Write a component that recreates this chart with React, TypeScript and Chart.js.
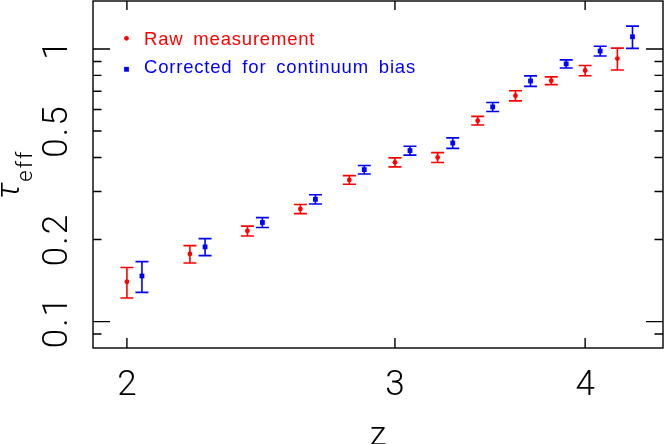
import { useEffect, useRef } from "react";
import { Chart, registerables } from "chart.js";

Chart.register(...registerables);

// Raw measurement (red)
const rawZ = [2.0, 2.2, 2.4, 2.6, 2.8, 3.0, 3.2, 3.4, 3.6, 3.8, 4.0, 4.2];
const rawTau = [0.14, 0.177, 0.215, 0.259, 0.331, 0.384, 0.4, 0.546, 0.674, 0.765, 0.834, 0.922];
const rawErr = [0.018, 0.013, 0.009, 0.01, 0.012, 0.0145, 0.0167, 0.02, 0.029, 0.025, 0.036, 0.085];

// Corrected for continuum bias (blue)
const corrZ = [2.046, 2.251, 2.455, 2.66, 2.864, 3.069, 3.274, 3.478, 3.683, 3.887, 4.092, 4.297];
const corrTau = [0.147, 0.188, 0.231, 0.281, 0.361, 0.424, 0.452, 0.613, 0.763, 0.882, 0.983, 1.109];
const corrErr = [0.019, 0.0135, 0.0097, 0.011, 0.013, 0.016, 0.02, 0.023, 0.034, 0.03, 0.04, 0.104];

// Axes
const xTickValues = [2, 3, 4];
const xTickLabels = ["2", "3", "4"];
const yMajorTicks = [0.1, 1];
const yMinorTicks = [0.09, 0.2, 0.3, 0.4, 0.5, 0.6, 0.7, 0.8, 0.9];
const yLabelValues = [0.1, 0.2, 0.5, 1];
const yLabelTexts = ["0.1", "0.2", "0.5", "1"];

const legendLabels = ["Raw measurement", "Corrected for continuum bias"];
const seriesColors = ["#ff0000", "#0000ff"];

const TICK_FONT = "300 35px Roboto, 'Open Sans', 'Liberation Sans', sans-serif";

const customPlugin = {
  id: "customDraw",
  beforeDatasetsDraw(chart: any) {
    const ctx = chart.ctx;
    const xs = chart.scales.x;
    const ys = chart.scales.y;
    const sets = [
      { z: rawZ, t: rawTau, e: rawErr, c: seriesColors[0] },
      { z: corrZ, t: corrTau, e: corrErr, c: seriesColors[1] },
    ];
    ctx.save();
    ctx.lineWidth = 1.6;
    for (const s of sets) {
      ctx.strokeStyle = s.c;
      for (let i = 0; i < s.z.length; i++) {
        const px = xs.getPixelForValue(s.z[i]);
        const pTop = ys.getPixelForValue(s.t[i] + s.e[i]);
        const pBot = ys.getPixelForValue(s.t[i] - s.e[i]);
        ctx.beginPath();
        ctx.moveTo(px, pTop);
        ctx.lineTo(px, pBot);
        ctx.moveTo(px - 6.5, pTop);
        ctx.lineTo(px + 6.5, pTop);
        ctx.moveTo(px - 6.5, pBot);
        ctx.lineTo(px + 6.5, pBot);
        ctx.stroke();
      }
    }
    ctx.restore();
  },
  afterDraw(chart: any) {
    const ctx = chart.ctx;
    const xs = chart.scales.x;
    const ys = chart.scales.y;
    const a = chart.chartArea;
    ctx.save();
    // frame
    ctx.strokeStyle = "#000";
    ctx.lineWidth = 1.4;
    ctx.strokeRect(a.left, a.top, a.right - a.left, a.bottom - a.top);
    ctx.beginPath();
    // x ticks (top & bottom)
    for (const v of xTickValues) {
      const px = xs.getPixelForValue(v);
      ctx.moveTo(px, a.bottom);
      ctx.lineTo(px, a.bottom - 10);
      ctx.moveTo(px, a.top);
      ctx.lineTo(px, a.top + 9);
    }
    // y ticks (left & right)
    for (const v of yMajorTicks) {
      const py = ys.getPixelForValue(v);
      ctx.moveTo(a.left, py);
      ctx.lineTo(a.left + 17, py);
      ctx.moveTo(a.right, py);
      ctx.lineTo(a.right - 17, py);
    }
    for (const v of yMinorTicks) {
      const py = ys.getPixelForValue(v);
      ctx.moveTo(a.left, py);
      ctx.lineTo(a.left + 8.5, py);
      ctx.moveTo(a.right, py);
      ctx.lineTo(a.right - 8.5, py);
    }
    ctx.stroke();

    // tick labels
    ctx.fillStyle = "#000";
    ctx.font = TICK_FONT;
    ctx.textAlign = "center";
    ctx.textBaseline = "alphabetic";
    xTickValues.forEach((v, i) => {
      ctx.fillText(xTickLabels[i], xs.getPixelForValue(v), 395);
    });
    (ctx as any).letterSpacing = "2px";
    yLabelValues.forEach((v, i) => {
      const py = ys.getPixelForValue(v);
      ctx.save();
      ctx.translate(67, py);
      ctx.rotate(-Math.PI / 2);
      ctx.fillText(yLabelTexts[i], 0, 0);
      ctx.restore();
    });
    (ctx as any).letterSpacing = "0px";

    // x axis title
    ctx.font = "300 34px Roboto, 'Open Sans', 'Liberation Sans', sans-serif";
    ctx.fillText("z", 378, 445);

    // y axis title
    ctx.save();
    ctx.translate(19, 199);
    ctx.rotate(-Math.PI / 2);
    ctx.textAlign = "left";
    ctx.font = "italic 300 33px Roboto, 'DejaVu Sans', sans-serif";
    ctx.fillText("τ", 0, 0);
    const tw = ctx.measureText("τ").width;
    ctx.font = "300 22px Roboto, 'Open Sans', sans-serif";
    (ctx as any).letterSpacing = "2px";
    ctx.fillText("eff", tw + 1, 13);
    (ctx as any).letterSpacing = "0px";
    ctx.restore();

    // legend
    ctx.font = "18.5px 'Liberation Sans', Arial, sans-serif";
    ctx.textAlign = "left";
    (ctx as any).letterSpacing = "0.8px";
    (ctx as any).wordSpacing = "4px";
    const legendY = [45, 72.7];
    const markerY = [38.3, 69.3];
    legendLabels.forEach((t, i) => {
      ctx.fillStyle = seriesColors[i];
      ctx.fillText(t, 144, legendY[i]);
      ctx.beginPath();
      if (i === 0) {
        ctx.arc(126.5, markerY[i], 2.4, 0, Math.PI * 2);
      } else {
        ctx.rect(126.5 - 2.4, markerY[i] - 2.4, 4.8, 4.8);
      }
      ctx.fill();
    });
    ctx.restore();
  },
};

export default function App() {
  const ref = useRef<HTMLCanvasElement | null>(null);
  useEffect(() => {
    document.body.style.margin = "0";
    const canvas = ref.current;
    if (!canvas) return;
    const chart = new Chart(canvas, {
      type: "scatter",
      data: {
        datasets: [
          {
            label: legendLabels[0],
            data: rawZ.map((z, i) => ({ x: z, y: rawTau[i] })),
            pointStyle: "circle",
            pointRadius: 2.4,
            pointBorderWidth: 0,
            backgroundColor: seriesColors[0],
            borderColor: seriesColors[0],
          },
          {
            label: legendLabels[1],
            data: corrZ.map((z, i) => ({ x: z, y: corrTau[i] })),
            pointStyle: "rect",
            pointRadius: 3.4,
            pointBorderWidth: 0,
            backgroundColor: seriesColors[1],
            borderColor: seriesColors[1],
          },
        ],
      },
      options: {
        responsive: false,
        animation: false,
        layout: { autoPadding: false, padding: { top: 1, right: 1, left: 0, bottom: 0 } },
        plugins: { legend: { display: false }, tooltip: { enabled: false } },
        scales: {
          x: {
            type: "logarithmic",
            min: 1.9,
            max: 4.5,
            bounds: "data",
            ticks: { display: false },
            grid: { display: false },
            border: { display: false },
            afterFit: (s: any) => {
              s.height = 96;
            },
          },
          y: {
            type: "logarithmic",
            min: 0.08,
            max: 1.5,
            bounds: "data",
            ticks: { display: false },
            grid: { display: false },
            border: { display: false },
            afterFit: (s: any) => {
              s.width = 93;
            },
          },
        },
      } as any,
      plugins: [customPlugin],
    });
    return () => chart.destroy();
  }, []);
  return (
    <div style={{ position: "fixed", left: 0, top: 0, width: 664, height: 444, background: "#fff" }}>
      <canvas ref={ref} width={664} height={444} style={{ width: 664, height: 444, display: "block" }} />
    </div>
  );
}
